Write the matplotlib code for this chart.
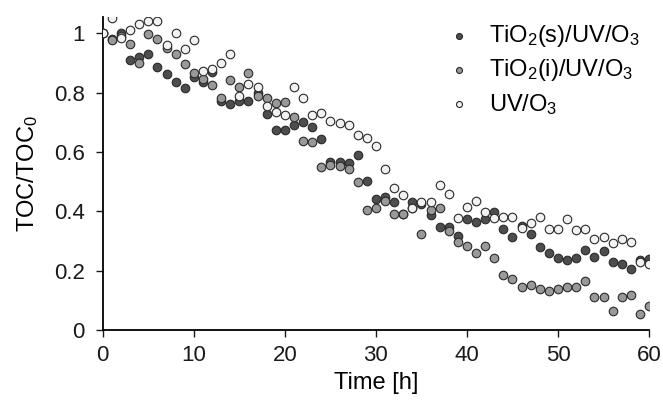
import matplotlib
matplotlib.use("Agg")
from matplotlib import pyplot as plt

plt.rcParams['font.family'] = ['Liberation Sans', 'DejaVu Sans']
plt.rcParams['mathtext.fontset'] = 'custom'
plt.rcParams['mathtext.rm'] = 'Liberation Sans'
plt.rcParams['mathtext.it'] = 'Liberation Sans'

# time in hours
hours = list(range(61))

# TiO2(s)/UV/O3
toc_s = [1.0, 0.98, 1.0, 0.91, 0.92, 0.93, 0.885, 0.864, 0.837, 0.814,
         0.854, 0.837, 0.87, 0.772, 0.761, 0.772, 0.77, 0.80, 0.727, 0.673,
         0.673, 0.69, 0.70, 0.685, 0.642, 0.567, 0.567, 0.561, 0.59, 0.503,
         0.44, 0.447, 0.432, 0.39, 0.43, 0.425, 0.387, 0.348, 0.346, 0.317,
         0.373, 0.365, 0.373, 0.398, 0.339, 0.315, 0.35, 0.323, 0.28, 0.26,
         0.243, 0.236, 0.244, 0.268, 0.245, 0.267, 0.23, 0.222, 0.204, 0.235,
         0.238]

# TiO2(i)/UV/O3
toc_i = [1.0, 0.976, 0.99, 0.965, 0.90, 0.997, 0.98, 0.95, 0.93, 0.896,
         0.867, 0.847, 0.825, 0.783, 0.842, 0.82, 0.865, 0.79, 0.78, 0.766,
         0.769, 0.718, 0.637, 0.634, 0.548, 0.556, 0.552, 0.544, 0.50, 0.404,
         0.41, 0.435, 0.39, 0.39, 0.41, 0.325, 0.406, 0.41, 0.335, 0.297,
         0.283, 0.258, 0.283, 0.241, 0.185, 0.172, 0.144, 0.152, 0.138, 0.132,
         0.138, 0.144, 0.146, 0.166, 0.11, 0.11, 0.065, 0.11, 0.118, 0.054,
         0.081]

# UV/O3
toc_uv = [1.0, 1.05, 0.985, 1.01, 1.03, 1.04, 1.04, 0.96, 1.0, 0.945,
          0.976, 0.874, 0.88, 0.898, 0.93, 0.79, 0.83, 0.82, 0.754, 0.733,
          0.726, 0.82, 0.78, 0.724, 0.73, 0.705, 0.696, 0.69, 0.657, 0.647,
          0.62, 0.544, 0.477, 0.455, 0.41, 0.43, 0.43, 0.488, 0.458, 0.378,
          0.415, 0.434, 0.398, 0.376, 0.38, 0.38, 0.342, 0.361, 0.38, 0.339,
          0.339, 0.373, 0.337, 0.339, 0.305, 0.315, 0.292, 0.305, 0.297, 0.23,
          0.224]

series = [
    (toc_s, '#4d4d4d', r'TiO$_2$(s)/UV/O$_3$'),
    (toc_i, '#999999', r'TiO$_2$(i)/UV/O$_3$'),
    (toc_uv, '#f2f2f2', r'UV/O$_3$'),
]

fig, ax = plt.subplots(figsize=(6.63, 4.01), dpi=100)
fig.subplots_adjust(left=0.155, right=0.979, bottom=0.177, top=0.958)

for ys, col, lab in series:
    ax.scatter(hours, ys, s=38, color=col, edgecolor='#2a2a2a', linewidth=0.8,
               label=lab, zorder=3)

ax.set_xlim(0, 60)
ax.set_ylim(0, 1.055)
ax.set_xticks(range(0, 61, 10))
ax.set_yticks([0, 0.2, 0.4, 0.6, 0.8, 1.0])
ax.set_yticklabels(['0', '0.2', '0.4', '0.6', '0.8', '1'])
ax.tick_params(direction='out', length=5, width=1, labelsize=16, colors='#1a1a1a')
ax.tick_params(axis='y', pad=8)
ax.tick_params(axis='x', pad=6)
ax.spines['top'].set_visible(False)
ax.spines['right'].set_visible(False)
for side in ['left', 'bottom']:
    ax.spines[side].set_linewidth(1.3)
ax.set_xlabel('Time [h]', fontsize=17, labelpad=4)
ax.set_ylabel(r'TOC/TOC$_0$', fontsize=17, labelpad=10)

ax.legend(loc='upper right', frameon=False, fontsize=17, markerscale=0.7,
          handletextpad=0.25, labelspacing=0.35, borderaxespad=0.0,
          bbox_to_anchor=(1.0, 1.01))

fig.savefig('out.png', dpi=100)
